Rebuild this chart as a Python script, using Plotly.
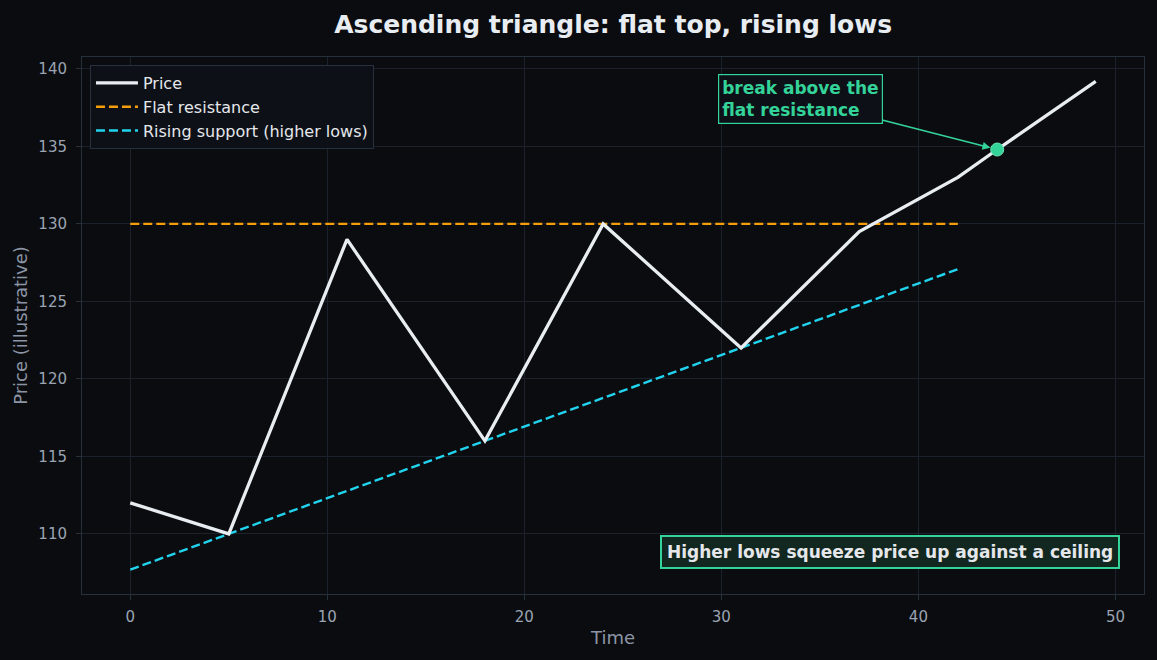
import plotly.graph_objects as go

# Data
time = [0, 5, 11, 18, 24, 31, 37, 42, 44, 49]
price = [112, 110, 129, 116, 130, 122, 129.5, 133, 134.8, 139.2]
res_x = [0, 42]
res_y = [130, 130]
sup_x = [0, 42]
sup_y = [107.69, 127.08]
break_x = [44]
break_y = [134.8]

BG = "#0b0c10"
GRID = "#1b222c"
SPINE = "#27313d"
TICK = "#9aa4b2"
LABEL = "#8b95a5"
GREEN = "#34d399"
FONT = "DejaVu Sans"

fig = go.Figure()
fig.add_trace(go.Scatter(x=res_x, y=res_y, mode="lines", name="Flat resistance", legendrank=2,
                         line=dict(color="#f59e0b", width=2.4, dash="9px,4px")))
fig.add_trace(go.Scatter(x=sup_x, y=sup_y, mode="lines", name="Rising support (higher lows)", legendrank=3,
                         line=dict(color="#22d3ee", width=2.4, dash="9px,4px")))
fig.add_trace(go.Scatter(x=time, y=price, mode="lines", name="Price", legendrank=1,
                         line=dict(color="#e8edf2", width=3.3)))
fig.add_trace(go.Scatter(x=break_x, y=break_y, mode="markers", showlegend=False,
                         marker=dict(color=GREEN, size=13, line=dict(color="#6ee7b7", width=1))))

fig.add_annotation(x=break_x[0], y=break_y[0], xref="x", yref="y",
                   ax=34.0, ay=138.07, axref="x", ayref="y",
                   text="<b>break above the<br>flat resistance</b>", align="left",
                   font=dict(family=FONT, size=17, color=GREEN),
                   showarrow=True, arrowhead=2, arrowsize=1, arrowwidth=1.6,
                   arrowcolor=GREEN, standoff=7,
                   bgcolor="#0d1117", bordercolor=GREEN, borderwidth=1.2, borderpad=3)

fig.add_annotation(x=0.9774, y=0.0466, xref="paper", yref="paper",
                   xanchor="right", yanchor="bottom",
                   text="<b>Higher lows squeeze price up against a ceiling</b>",
                   font=dict(family=FONT, size=17, color="#e5e7eb"),
                   showarrow=False, bgcolor="#11271f", bordercolor=GREEN,
                   borderwidth=2, borderpad=5)

axis_common = dict(showgrid=True, gridcolor=GRID, gridwidth=1, zeroline=False,
                   showline=True, linecolor=SPINE, linewidth=1, mirror=True,
                   ticks="outside", ticklen=5, tickcolor=SPINE,
                   tickfont=dict(family=FONT, size=15, color=TICK))

fig.update_layout(
    width=1157, height=660,
    paper_bgcolor=BG, plot_bgcolor=BG,
    margin=dict(l=82, r=13, t=57, b=66),
    title=dict(text="<b>Ascending triangle: flat top, rising lows</b>", x=0.53, xanchor="center",
               y=0.963, yanchor="middle",
               font=dict(family=FONT, size=25, color="#e8edf2")),
    xaxis=dict(range=[-2.45, 51.45], dtick=10, ticklabelstandoff=4,
               title=dict(text="Time", font=dict(family=FONT, size=18, color=LABEL), standoff=6),
               **axis_common),
    yaxis=dict(range=[106.12, 140.77], dtick=5, ticklabelstandoff=6,
               title=dict(text="Price (illustrative)", font=dict(family=FONT, size=18, color=LABEL), standoff=6),
               **axis_common),
    legend=dict(x=0.0075, y=0.985, xanchor="left", yanchor="top",
                bgcolor="#0d1117", bordercolor=SPINE, borderwidth=1,
                font=dict(family=FONT, size=16, color="#e5e7eb"),
                traceorder="normal", itemwidth=42, tracegroupgap=0),
    showlegend=True,
)

fig.write_html("out.html")
